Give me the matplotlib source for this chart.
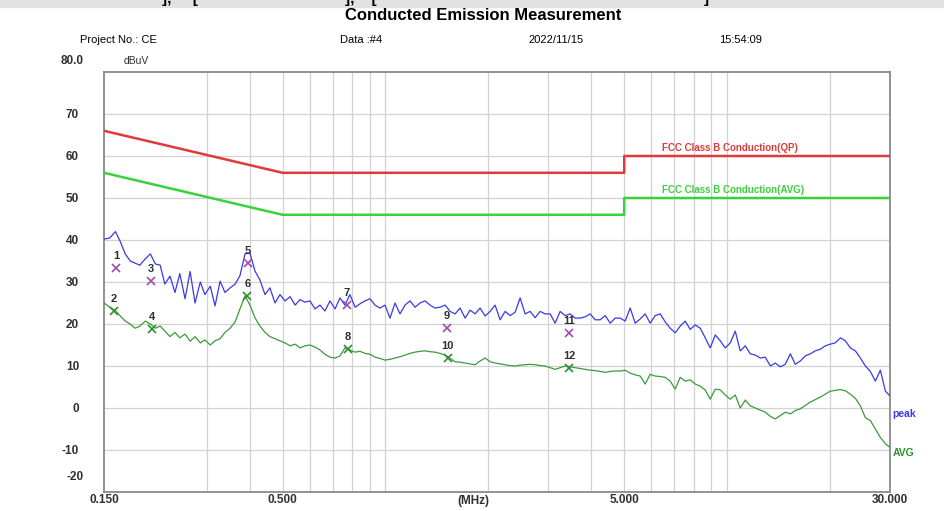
import matplotlib
matplotlib.use("Agg")
import matplotlib.pyplot as plt
import matplotlib.transforms as mtransforms

plt.rcParams['font.family'] = ['Liberation Sans Narrow', 'Liberation Sans', 'DejaVu Sans']

# scan frequencies (MHz)
freq = [0.150, 0.156, 0.162, 0.167, 0.173, 0.179, 0.185, 0.191, 0.198, 0.205,
        0.212, 0.219, 0.226, 0.234, 0.242, 0.250, 0.259, 0.268, 0.277, 0.287,
        0.296, 0.307, 0.317, 0.328, 0.339, 0.351, 0.363, 0.375, 0.388, 0.401,
        0.415, 0.429, 0.444, 0.459, 0.475, 0.491, 0.508, 0.526, 0.544, 0.562,
        0.581, 0.601, 0.622, 0.643, 0.665, 0.688, 0.712, 0.736, 0.761, 0.787,
        0.815, 0.842, 0.871, 0.901, 0.932, 0.964, 0.997, 1.031, 1.067, 1.103,
        1.141, 1.180, 1.221, 1.263, 1.306, 1.351, 1.397, 1.445, 1.495, 1.546,
        1.599, 1.654, 1.711, 1.769, 1.830, 1.893, 1.958, 2.025, 2.094, 2.166,
        2.240, 2.317, 2.397, 2.479, 2.564, 2.652, 2.743, 2.837, 2.934, 3.035,
        3.139, 3.247, 3.358, 3.473, 3.592, 3.715, 3.843, 3.975, 4.111, 4.252,
        4.398, 4.549, 4.705, 4.866, 5.033, 5.206, 5.384, 5.569, 5.760, 5.957,
        6.162, 6.373, 6.592, 6.818, 7.052, 7.294, 7.544, 7.803, 8.070, 8.347,
        8.634, 8.930, 9.236, 9.553, 9.881, 10.22, 10.57, 10.93, 11.31, 11.70,
        12.10, 12.51, 12.94, 13.39, 13.85, 14.32, 14.81, 15.32, 15.85, 16.39,
        16.95, 17.53, 18.13, 18.76, 19.40, 20.06, 20.75, 21.47, 22.20, 22.96,
        23.75, 24.57, 25.41, 26.28, 27.18, 28.11, 29.08, 30.00]

# peak detector trace (dBuV)
peak = [40.2, 40.5, 42.0, 39.8, 36.7, 35.0, 34.5, 34.0, 35.5, 36.7,
        34.3, 34.0, 29.5, 31.4, 27.5, 32.0, 26.0, 32.5, 25.0, 30.0,
        27.0, 29.0, 24.3, 30.2, 27.5, 28.6, 29.5, 31.5, 36.7, 36.9,
        32.6, 30.5, 27.0, 28.6, 25.0, 27.0, 25.5, 26.5, 24.5, 25.8,
        25.2, 25.5, 23.6, 24.5, 23.1, 25.5, 23.6, 26.2, 24.5, 27.0,
        24.0, 24.8, 25.5, 26.0, 24.5, 23.8, 24.5, 21.4, 25.0, 22.4,
        24.5, 25.5, 24.0, 25.0, 25.5, 24.5, 23.8, 24.0, 24.5, 23.0,
        22.4, 23.8, 21.4, 23.3, 22.4, 23.8, 21.9, 23.0, 24.5, 21.0,
        23.0, 22.0, 22.8, 26.2, 22.4, 23.0, 21.5, 23.0, 22.4, 22.4,
        20.2, 23.0, 22.0, 22.4, 21.4, 21.4, 21.7, 22.4, 21.0, 21.0,
        22.0, 20.2, 21.4, 21.4, 20.7, 23.8, 20.2, 21.2, 22.4, 20.2,
        22.0, 22.4, 20.5, 19.0, 17.9, 19.5, 20.7, 18.7, 19.8, 19.0,
        16.7, 14.3, 17.4, 16.0, 14.3, 15.5, 18.3, 13.6, 14.8, 12.9,
        12.6, 11.9, 12.1, 10.0, 10.7, 9.8, 10.4, 12.9, 10.4, 11.2,
        12.4, 12.9, 13.6, 14.0, 14.8, 15.2, 15.5, 16.7, 16.0, 14.3,
        13.6, 11.9, 10.0, 8.7, 6.4, 9.0, 4.0, 2.9]

# average detector trace (dBuV)
avg = [25.0, 24.0, 23.1, 22.0, 20.7, 20.0, 19.0, 19.5, 20.7, 20.0,
       19.0, 19.5, 18.3, 17.0, 18.0, 16.7, 17.6, 15.9, 17.0, 15.5,
       16.2, 15.0, 16.0, 16.5, 18.0, 19.0, 20.5, 23.6, 26.7, 24.5,
       21.5, 19.5, 18.0, 17.0, 16.5, 16.0, 15.5, 14.8, 15.2, 14.3,
       14.8, 15.0, 14.5, 13.8, 12.8, 12.1, 11.9, 12.4, 14.3, 13.8,
       13.3, 13.5, 13.0, 12.8, 12.1, 11.8, 11.4, 11.6, 11.9, 12.2,
       12.6, 13.0, 13.3, 13.5, 13.6, 13.4, 13.3, 13.0, 12.6, 11.8,
       11.0, 10.9, 10.7, 10.5, 10.3, 11.2, 11.9, 11.0, 10.7, 10.5,
       10.3, 10.1, 10.0, 10.2, 10.3, 10.4, 10.3, 10.1, 10.0, 9.6,
       9.2, 9.6, 10.0, 9.8, 9.6, 9.4, 9.2, 9.0, 8.9, 8.7,
       8.5, 8.7, 8.8, 8.8, 9.0, 8.3, 7.9, 7.6, 5.7, 8.0,
       7.6, 7.5, 7.3, 6.4, 4.5, 7.3, 6.4, 6.7, 5.7, 5.2,
       4.3, 2.1, 4.5, 4.3, 3.1, 2.1, 3.1, 0.0, 1.9, 0.5,
       0.0, -0.5, -1.0, -2.0, -2.6, -1.8, -1.0, -1.4, -0.6, -0.2,
       0.6, 1.4, 2.0, 2.6, 3.3, 4.0, 4.2, 4.4, 4.1, 3.3,
       2.3, 0.5, -2.3, -3.0, -5.0, -7.0, -8.5, -9.4]

# FCC Class B conducted limits
lim_freq = [0.15, 0.5, 5.0, 5.0, 30.0]
qp_limit = [66, 56, 56, 60, 60]
avg_limit = [56, 46, 46, 50, 50]

# measured markers (odd = QP, even = AVG)
mk_no = [1, 2, 3, 4, 5, 6, 7, 8, 9, 10, 11, 12]
mk_freq = [0.163, 0.160, 0.206, 0.207, 0.396, 0.394, 0.771, 0.775, 1.51, 1.52, 3.45, 3.45]
mk_level = [33.4, 23.1, 30.2, 18.8, 34.5, 26.7, 24.5, 14.0, 19.0, 11.9, 17.9, 9.5]

xtick_pos = [0.15, 0.5, 5.0, 30.0]
xtick_lab = ['0.150', '0.500', '5.000', '30.000']
ytick_pos = [-10, 0, 10, 20, 30, 40, 50, 60, 70]
vgrid = [0.3, 0.4, 0.5, 0.6, 0.7, 0.8, 0.9, 1, 2, 3, 4, 5, 6, 7, 8, 9, 10, 20]

fig = plt.figure(figsize=(9.44, 5.11), dpi=100)
ax = fig.add_axes([0.1102, 0.0372, 0.8326, 0.8219])

# grey strip of the page above the chart, with the cut-off brackets
band = plt.Rectangle((0, 0.986), 1, 0.014, transform=fig.transFigure,
                     color='#e2e2e2', zorder=0)
fig.patches.append(band)
for xs, s in [(0.172, '],     ['), (0.365, '],    ['), (0.746, ']')]:
    t = fig.text(xs, 0.995, s, fontsize=11, fontweight='bold', va='baseline', color='black')
    t.set_clip_path(band)

ax.set_xscale('log')
ax.set_xlim(0.15, 30)
ax.set_ylim(-20, 80)

for v in vgrid:
    ax.axvline(v, color='#d2d2d2', lw=0.9, zorder=1)
for h in ytick_pos:
    ax.axhline(h, color='#d2d2d2', lw=0.9, zorder=1)

ax.plot(lim_freq, qp_limit, color='#e03a3a', lw=1.8, zorder=3)
ax.plot(lim_freq, avg_limit, color='#3ad23a', lw=1.8, zorder=3)
ax.plot(freq, avg, color='#3c9a3c', lw=0.9, zorder=4)
ax.plot(freq, peak, color='#3a3ae6', lw=0.9, zorder=5)

for n, f, lv in zip(mk_no, mk_freq, mk_level):
    c = '#a04ca8' if n % 2 else '#2f8f2f'
    ax.plot(f, lv, marker='x', ms=6, mew=1.2, color=c, zorder=6, ls='none')
    ax.annotate(str(n), (f, lv), xytext=(0, 5), textcoords='offset points',
                ha='center', va='bottom', fontsize=8, fontweight='bold',
                color='#303030', zorder=7)

ax.text(6.45, 61.9, 'FCC Class B Conduction(QP)', color='#e03a3a', fontsize=7,
        fontweight='bold', va='center')
ax.text(6.45, 51.9, 'FCC Class B Conduction(AVG)', color='#3ad23a', fontsize=7,
        fontweight='bold', va='center')

tr = mtransforms.blended_transform_factory(ax.transAxes, ax.transData)
ax.text(1.003, -1.5, 'peak', transform=tr, color='#3a3ae6', fontsize=7.5,
        fontweight='bold', va='center')
ax.text(1.003, -10.8, 'AVG', transform=tr, color='#2f8f2f', fontsize=7.5,
        fontweight='bold', va='center')

ax.set_xticks(xtick_pos)
ax.set_xticklabels(xtick_lab, fontsize=8.5, fontweight='bold', color='#303030')
ax.xaxis.set_minor_locator(matplotlib.ticker.NullLocator())
ax.set_yticks(ytick_pos)
ax.set_yticklabels([str(v) for v in ytick_pos], fontsize=8.5, fontweight='bold', color='#303030')
ax.tick_params(axis='x', length=0, pad=1.5)
ax.tick_params(axis='y', length=0, pad=18)
ax.text(-0.0265, -16.5, '-20', transform=tr, ha='right', va='center', fontsize=8.5,
        fontweight='bold', color='#303030')
ax.text(-0.0265, 82.6, '80.0', transform=tr, ha='right', va='center', fontsize=8.5,
        fontweight='bold', color='#303030')
ax.text(0.025, 82.6, 'dBuV', transform=tr, ha='left', va='center', fontsize=7.5,
        color='#303030')
ax.text(0.47, -0.006, '(MHz)', transform=ax.transAxes, ha='center', va='top',
        fontsize=8.5, fontweight='bold', color='#303030')

for s in ax.spines.values():
    s.set_color('#8a8a8a')
    s.set_linewidth(1.3)

fig.text(0.512, 0.970, 'Conducted Emission Measurement', ha='center', va='center',
         fontsize=12, fontweight='bold')
for xs, s in [(0.085, 'Project No.: CE'), (0.360, 'Data :#4'), (0.560, '2022/11/15'),
              (0.762, '15:54:09')]:
    fig.text(xs, 0.9217, s, ha='left', va='center', fontsize=8)

fig.savefig('out.png', dpi=100)
